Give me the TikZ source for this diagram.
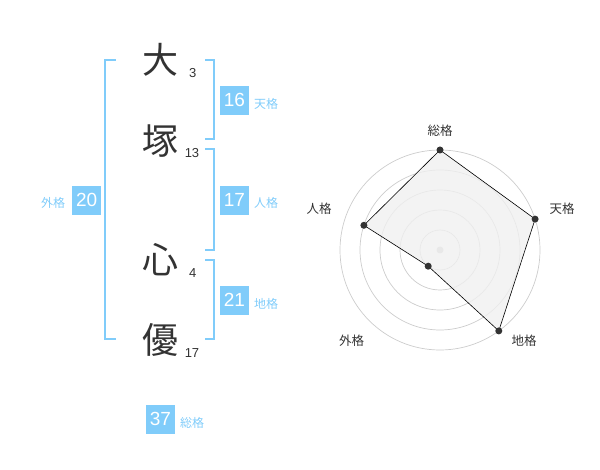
\documentclass[tikz,border=0pt]{standalone}
\usepackage{fontspec}
\setmainfont{Liberation Sans}
\newfontfamily\jp{Noto Sans CJK JP}
\definecolor{sky}{HTML}{80CCFA}
\definecolor{ink}{HTML}{333333}
\definecolor{ring}{HTML}{CCCCCC}
\definecolor{area}{HTML}{F0F0F0}
\tikzset{
  kanji/.style={inner sep=0pt, text=ink, font=\jp\fontsize{36}{36}\selectfont},
  strokes/.style={inner sep=0pt, text=ink, font=\fontsize{13}{13}\selectfont},
  numbox/.style={fill=sky, text=white, minimum size=29pt, inner sep=0pt, font=\fontsize{19}{19}\selectfont},
  lab/.style={inner sep=0pt, text=sky, font=\jp\fontsize{12}{12}\selectfont},
  bracket/.style={draw=sky, line width=2pt},
  ringline/.style={draw=ring, line width=0.7pt},
  rlab/.style={inner sep=0pt, text=ink, font=\jp\fontsize{12.5}{12.5}\selectfont},
  dotnode/.style={circle, fill=ink, minimum size=7pt, inner sep=0pt},
}
\begin{document}
\begin{tikzpicture}[x=1pt,y=-1pt]
\useasboundingbox (0,0) rectangle (600,470);
% kanji
\node[kanji] (k1) at (160,60) {大};
\node[kanji] (k2) at (160,141.5) {塚};
\node[kanji] (k3) at (160,260) {心};
\node[kanji] (k4) at (160,340) {優};
\node[strokes] (s1) at (192.7,72.7) {3};
\node[strokes] (s2) at (192,153.3) {13};
\node[strokes] (s3) at (192.7,272.7) {4};
\node[strokes] (s4) at (192,353.3) {17};
% brackets
\draw[bracket] (115.7,60) -- (105.3,60) -- (105.3,339.3) -- (115.7,339.3);
\draw[bracket] (205,60) -- (214.3,60) -- (214.3,139.3) -- (205,139.3);
\draw[bracket] (205,149.3) -- (214.3,149.3) -- (214.3,250) -- (205,250);
\draw[bracket] (205,260) -- (214.3,260) -- (214.3,339.3) -- (205,339.3);
% boxes
\node[numbox] (b16) at (234.5,100.3) {16};
\node[lab] (l16) at (266,103.5) {天格};
\node[numbox] (b17) at (234.5,200.3) {17};
\node[lab] (l17) at (266,203) {人格};
\node[numbox] (b20) at (86.7,200.3) {20};
\node[lab] (l20) at (53,203) {外格};
\node[numbox] (b21) at (234.5,300.3) {21};
\node[lab] (l21) at (266,303.5) {地格};
\node[numbox] (b37) at (160.5,419) {37};
\node[lab] (l37) at (192,422.5) {総格};
% radar
\coordinate (c) at (440,250);
\foreach \r in {20,40,60,80,100} \draw[ringline] (c) circle[radius=\r];
\fill[ring] (c) circle[radius=3.5];
\coordinate (p1) at (440,150);
\coordinate (p2) at (535.1,219.1);
\coordinate (p3) at (498.8,330.9);
\coordinate (p4) at (428.2,266.2);
\coordinate (p5) at (363.9,225.3);
\filldraw[fill=area, fill opacity=0.8, draw=black, line width=0.6pt] (p1) -- (p2) -- (p3) -- (p4) -- (p5) -- cycle;
\foreach \p in {p1,p2,p3,p4,p5} \node[dotnode] at (\p) {};
\node[rlab] (r1) at (440,130.7) {総格};
\node[rlab] (r2) at (562,209) {天格};
\node[rlab] (r3) at (524,341) {地格};
\node[rlab] (r4) at (351.7,341) {外格};
\node[rlab] (r5) at (319,209) {人格};
\end{tikzpicture}
\end{document}
